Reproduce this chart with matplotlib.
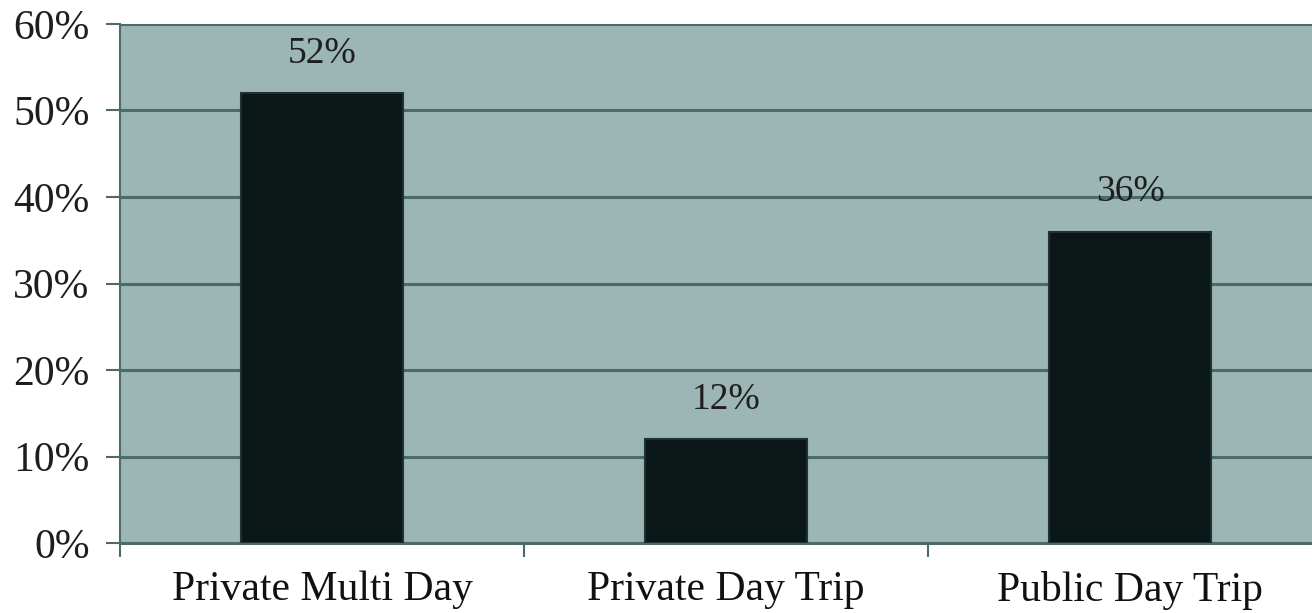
import matplotlib.pyplot as plt
from matplotlib.ticker import FixedLocator, PercentFormatter

# chart data
categories = ["Private Multi Day", "Private Day Trip", "Public Day Trip"]
shares = [52, 12, 36]
y_ticks = [0, 10, 20, 30, 40, 50, 60]

plt.rcParams['font.family'] = ['Liberation Serif', 'DejaVu Serif']

fig = plt.figure(figsize=(13.12, 6.13), dpi=100)
ax = fig.add_axes([0.0915, 0.114, 0.9085, 0.847])

bg = "#9cb5b5"
grid_col = "#4d6a6a"
ax.set_facecolor(bg)

x = list(range(len(categories)))
ax.bar(x, shares, width=0.4, color="#0b1616", edgecolor="#1d3333",
       linewidth=1.5, zorder=3)

# value labels
for xi, v in zip(x, shares):
    ax.annotate(f"{v}%", (xi, v), textcoords="offset points", xytext=(0, 16),
                ha="center", va="bottom", fontsize=27, color="#1e1e1e")

ax.set_ylim(0, 60)
ax.set_xlim(-0.5, 2.45)
ax.set_yticks(y_ticks)
ax.yaxis.set_major_formatter(PercentFormatter(decimals=0))
ax.yaxis.grid(True, color=grid_col, linewidth=2.2, zorder=1)
ax.set_axisbelow(True)

# category labels centred, ticks at the boundaries
ax.set_xticks(x)
ax.set_xticklabels(categories)
ax.xaxis.set_minor_locator(FixedLocator([-0.5, 0.5, 1.5]))
ax.tick_params(axis="x", which="major", length=0, pad=20, labelsize=30,
               labelcolor="#111111")
ax.tick_params(axis="x", which="minor", length=10, width=1.5, color=grid_col)
ax.tick_params(axis="y", length=10, width=1.5, color=grid_col, labelsize=30,
               labelcolor="#1e1e1e", pad=12)

for side in ["top", "right"]:
    ax.spines[side].set_visible(False)
ax.spines["left"].set_color(grid_col)
ax.spines["left"].set_linewidth(1.5)
ax.spines["bottom"].set_color(grid_col)
ax.spines["bottom"].set_linewidth(2.2)

fig.savefig("out.png", dpi=100)
